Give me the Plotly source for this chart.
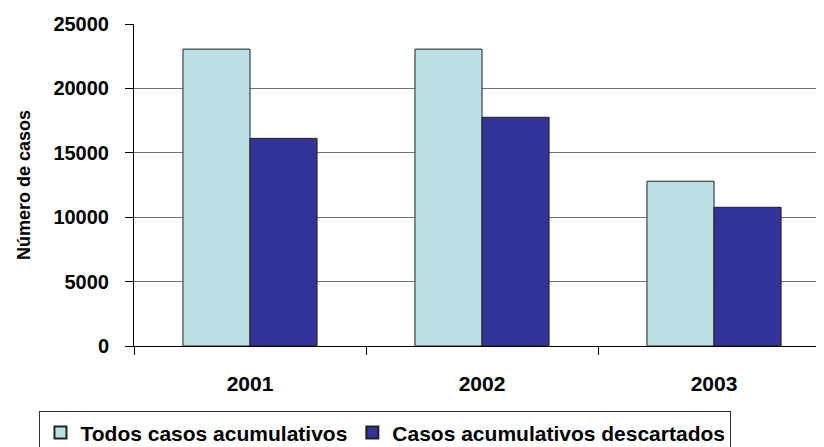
import plotly.graph_objects as go

years = ["2001", "2002", "2003"]
todos = [23050, 23050, 12790]
descartados = [16120, 17760, 10770]
series_names = ["Todos casos acumulativos", "Casos acumulativos descartados"]
y_ticks = [0, 5000, 10000, 15000, 20000, 25000]

FONT = "Liberation Sans"

fig = go.Figure()
fig.add_trace(go.Bar(
    x=years, y=todos, name=series_names[0],
    marker=dict(color="#BBE0E3", line=dict(color="#222222", width=1)),
))
fig.add_trace(go.Bar(
    x=years, y=descartados, name=series_names[1],
    marker=dict(color="#333399", line=dict(color="#222222", width=1)),
))

# page body has an 8px default margin, so the figure is sized to fit the window
fig.update_layout(
    width=816, height=439,
    margin=dict(l=126, r=0, t=16, b=101, autoexpand=False),
    paper_bgcolor="white", plot_bgcolor="white",
    barmode="group", bargap=0.422, bargroupgap=0,
    font=dict(family=FONT, size=17, color="black"),
    showlegend=True,
    legend=dict(
        orientation="h", x=-0.137, xanchor="left", y=-0.203, yanchor="top",
        bordercolor="#333333", borderwidth=1,
        font=dict(family=FONT, size=21, color="black", weight="bold"),
        itemsizing="constant", tracegroupgap=0, itemwidth=30,
    ),
)
fig.update_xaxes(
    type="category", range=[-0.5, 2.474], automargin=False,
    showline=True, linecolor="black", linewidth=1,
    showgrid=False, tickson="boundaries", ticks="outside", ticklen=8,
    tickcolor="black", ticklabelstandoff=19,
    tickfont=dict(family=FONT, size=21, color="black", weight="bold"),
)
fig.update_yaxes(
    range=[0, 25000], tickvals=y_ticks, ticktext=[str(v) for v in y_ticks],
    automargin=False,
    showline=True, linecolor="black", linewidth=1,
    showgrid=True, gridcolor="#707070", gridwidth=1,
    ticks="outside", ticklen=8, tickcolor="black", ticklabelstandoff=12,
    tickfont=dict(family=FONT, size=20, color="black", weight="bold"),
    title=dict(text="Número de casos", standoff=18,
               font=dict(family=FONT, size=18, color="black", weight="bold")),
)

fig.write_html("out.html")
